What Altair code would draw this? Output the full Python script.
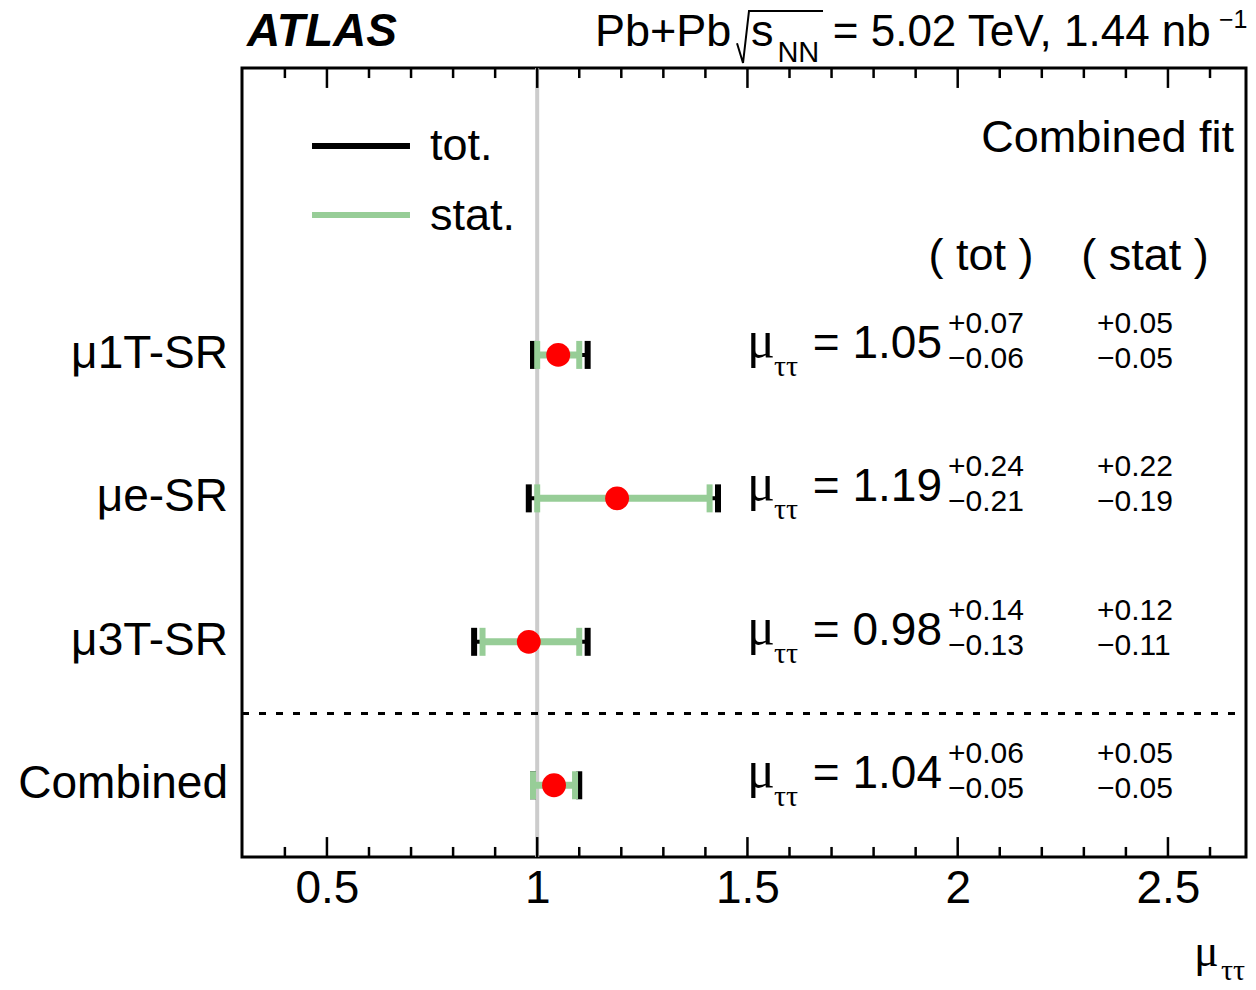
import altair as alt
import pandas as pd

# ---------------- data ----------------
labels = ["μ1T-SR", "μe-SR", "μ3T-SR", "Combined"]
mu = [1.05, 1.19, 0.98, 1.04]
tot_up = [0.07, 0.24, 0.14, 0.06]
tot_dn = [0.06, 0.21, 0.13, 0.05]
stat_up = [0.05, 0.22, 0.12, 0.05]
stat_dn = [0.05, 0.19, 0.11, 0.05]
row_pos = [3.5, 2.5, 1.5, 0.5]

major_ticks = [0.5, 1.0, 1.5, 2.0, 2.5]
minor_ticks = [0.4, 0.6, 0.7, 0.8, 0.9, 1.1, 1.2, 1.3, 1.4, 1.6, 1.7, 1.8, 1.9,
               2.1, 2.2, 2.3, 2.4, 2.6]

SANS = "Liberation Sans"
SERIF = "Liberation Serif"
GREEN = "#97cd97"

XMIN, XMAX = 0.298, 2.6856
YMIN, YMAX = 0.0, 5.5
CAP = 0.0976      # half height of error-bar caps (y units)
MAJ = 0.139       # major tick length (y units)
MIN_ = 0.07       # minor tick length

df = pd.DataFrame(dict(label=labels, row=row_pos, mu=mu,
                       tot_up=tot_up, tot_dn=tot_dn,
                       stat_up=stat_up, stat_dn=stat_dn))
df["tot_lo"] = df.mu - df.tot_dn
df["tot_hi"] = df.mu + df.tot_up
df["stat_lo"] = df.mu - df.stat_dn
df["stat_hi"] = df.mu + df.stat_up
df["eq"] = df.mu.map(lambda v: f"= {v:.2f}")
df["tu"] = df.tot_up.map(lambda v: f"+{v:.2f}")
df["td"] = df.tot_dn.map(lambda v: f"\u2212{v:.2f}")
df["su"] = df.stat_up.map(lambda v: f"+{v:.2f}")
df["sd"] = df.stat_dn.map(lambda v: f"\u2212{v:.2f}")
df["mus"] = "μ"
df["taus"] = "ττ"

caps_rows = []
for _, r in df.iterrows():
    for kind, lo, hi in (("tot", r.tot_lo, r.tot_hi), ("stat", r.stat_lo, r.stat_hi)):
        for xv in (lo, hi):
            caps_rows.append(dict(kind=kind, x=xv, y0=r.row - CAP, y1=r.row + CAP))
caps = pd.DataFrame(caps_rows)

tick_rows = []
for v in major_ticks:
    tick_rows.append(dict(x=v, y0=YMIN, y1=YMIN + MAJ))
    tick_rows.append(dict(x=v, y0=YMAX, y1=YMAX - MAJ))
for v in minor_ticks:
    tick_rows.append(dict(x=v, y0=YMIN, y1=YMIN + MIN_))
    tick_rows.append(dict(x=v, y0=YMAX, y1=YMAX - MIN_))
ticks = pd.DataFrame(tick_rows)

xs = alt.Scale(domain=[XMIN, XMAX], nice=False, zero=False)
ys = alt.Scale(domain=[YMIN, YMAX], nice=False, zero=False)
xax = alt.Axis(values=major_ticks, format="~g", labelFontSize=46, labelFont=SANS,
               labelColor="black", labelPadding=9, ticks=False, domain=False,
               grid=False, title=None, labelFlush=False)


def X(f):
    return alt.X(f, type="quantitative", scale=xs, axis=xax)


def Y(f):
    return alt.Y(f, type="quantitative", scale=ys, axis=None)


layers = []

# vertical reference line at mu = 1
layers.append(alt.Chart(pd.DataFrame(dict(x=[1.0], y0=[YMIN], y1=[YMAX])))
              .mark_rule(color="#cccccc", strokeWidth=4)
              .encode(x=X("x"), y=Y("y0"), y2="y1"))
# dashed separator
layers.append(alt.Chart(pd.DataFrame(dict(x0=[XMIN], x1=[XMAX], y=[1.0])))
              .mark_rule(color="black", strokeWidth=3, strokeDash=[7, 10])
              .encode(x=X("x0"), x2="x1", y=Y("y")))

base = alt.Chart(df)
layers.append(base.mark_rule(color="black", strokeWidth=4)
              .encode(x=X("tot_lo"), x2="tot_hi", y=Y("row")))
layers.append(alt.Chart(caps[caps.kind == "tot"]).mark_rule(color="black", strokeWidth=6)
              .encode(x=X("x"), y=Y("y0"), y2="y1"))
layers.append(base.mark_rule(color=GREEN, strokeWidth=7)
              .encode(x=X("stat_lo"), x2="stat_hi", y=Y("row")))
layers.append(alt.Chart(caps[caps.kind == "stat"]).mark_rule(color=GREEN, strokeWidth=6)
              .encode(x=X("x"), y=Y("y0"), y2="y1"))
layers.append(base.mark_circle(color="#ff0000", opacity=1, size=570)
              .encode(x=X("mu"), y=Y("row")))

# row labels
layers.append(base.mark_text(align="right", baseline="alphabetic", font=SANS,
                             fontSize=46, color="black", dy=13)
              .encode(x=X("lx"), y=Y("row"), text="label")
              .transform_calculate(lx="0.2647"))


# value annotations
def row_text(field, xval, align, font, size, dy):
    return (base.mark_text(align=align, baseline="alphabetic", font=font,
                           fontSize=size, color="black", dy=dy)
            .transform_calculate(tx=str(xval))
            .encode(x=X("tx"), y=Y("row"), text=f"{field}:N"))


layers.append(row_text("mus", 1.499, "left", SERIF, 52, 2))
layers.append(row_text("taus", 1.5632, "left", SERIF, 30, 21))
layers.append(row_text("eq", 1.9627, "right", SANS, 46, 3))
layers.append(row_text("tu", 1.9769, "left", SANS, 30, -22))
layers.append(row_text("td", 1.9769, "left", SANS, 30, 13))
layers.append(row_text("su", 2.3313, "left", SANS, 30, -22))
layers.append(row_text("sd", 2.3313, "left", SANS, 30, 13))

# legend
leg_lines = pd.DataFrame(dict(x0=[0.4645, 0.4645], x1=[0.6975, 0.6975],
                              y=[4.956, 4.475], c=["black", GREEN]))
layers.append(alt.Chart(leg_lines).mark_rule(strokeWidth=6)
              .encode(x=X("x0"), x2="x1", y=Y("y"),
                      color=alt.Color("c:N", scale=None)))


def texts(items, align="left", font=SANS, size=45, weight="normal", style="normal"):
    d = pd.DataFrame(items, columns=["t", "x", "y"])
    return (alt.Chart(d).mark_text(align=align, baseline="alphabetic", font=font,
                                   fontSize=size, fontWeight=weight, fontStyle=style,
                                   color="black")
            .encode(x=X("x"), y=Y("y"), text="t:N"))


layers.append(texts([("tot.", 0.7451, 4.86), ("stat.", 0.7451, 4.37)], size=45))
layers.append(texts([("Combined fit", 2.657, 4.915)], align="right", size=45))
layers.append(texts([("( tot )", 2.0554, 4.092), ("( stat )", 2.4454, 4.092)],
                    align="center", size=45))

# header
layers.append(texts([("ATLAS", 0.3099, 5.65)], size=46, weight="bold", style="italic"))
layers.append(texts([("Pb+Pb", 1.1375, 5.65), ("s", 1.5085, 5.65)], size=45))
layers.append(texts([("= 5.02 TeV, 1.44 nb", 1.7029, 5.65)], size=44))
layers.append(texts([("NN", 1.5712, 5.545)], size=29))
layers.append(texts([("\u22121", 2.6214, 5.78)], size=25))
# square-root sign drawn as a polyline
sqrt_pts = pd.DataFrame(dict(x=[1.4752, 1.4895, 1.5037, 1.6797],
                             y=[5.672, 5.535, 5.898, 5.898], o=[0, 1, 2, 3]))
layers.append(alt.Chart(sqrt_pts).mark_line(color="black", strokeWidth=2)
              .encode(x=X("x"), y=Y("y"), order="o:Q"))

# x-axis title
layers.append(texts([("μ", 2.562, -0.76)], font=SERIF, size=46))
layers.append(texts([("ττ", 2.6262, -0.855)], font=SERIF, size=30))

# inward ticks on top and bottom
layers.append(alt.Chart(ticks).mark_rule(color="black", strokeWidth=2.5)
              .encode(x=X("x"), y=Y("y0"), y2="y1"))

chart = (alt.layer(*layers)
         .properties(width=1004, height=789,
                     autosize=alt.AutoSizeParams(type="none"),
                     padding={"left": 234, "top": 60, "right": 2, "bottom": 125})
         .configure(background="white")
         .configure_view(stroke="black", strokeWidth=3))

chart.save("out.html", embed_options={"renderer": "svg", "actions": False})
